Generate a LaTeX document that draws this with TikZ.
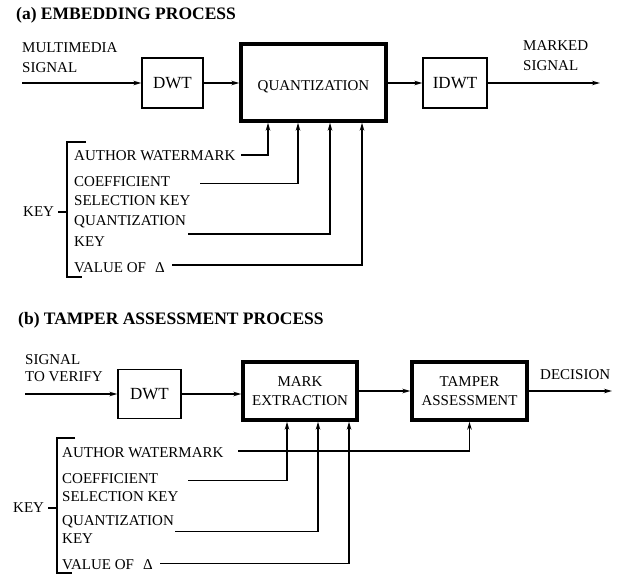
\documentclass[tikz,border=0pt]{standalone}
\usepackage{fontspec}
\setmainfont{Liberation Serif}
\usetikzlibrary{arrows.meta,calc}
\begin{document}
\begin{tikzpicture}[x=1pt,y=-1pt,
  txt/.style={inner sep=0pt, anchor=west, align=left, font=\fontsize{15}{18}\selectfont},
  ttl/.style={inner sep=0pt, anchor=west, font=\bfseries\fontsize{17.5}{20}\selectfont},
  thinbox/.style={draw, line width=1.3pt, inner sep=0pt, font=\fontsize{17}{20}\selectfont},
  thickbox/.style={draw, line width=3.4pt, inner sep=0pt, align=center, font=\fontsize{15}{18.7}\selectfont},
  conn/.style={line width=1.3pt},
  arr/.style={conn, -{Stealth[length=8pt,width=4.5pt]}}]
\useasboundingbox (0,0) rectangle (617,575);

% ---------------- (a) embedding process ----------------
\node[ttl] (ta) at (16,15.5) {(a) EMBEDDING PROCESS};
\node[txt] (in1) at (22,58) {MULTIMEDIA\\[2pt]SIGNAL};
\coordinate (in1s) at (22,83);
\node[thinbox, minimum width=61pt, minimum height=50pt] (dwt1) at (172.5,83) {DWT};
\node[thickbox, minimum width=145pt, minimum height=77pt, text height=17pt, text depth=0pt] (q) at (313.5,82.5) {QUANTIZATION};
\node[thinbox, minimum width=64pt, minimum height=50pt] (idwt) at (455,83) {IDWT};
\node[txt] (out1) at (523,55.7) {MARKED\\[2pt]SIGNAL};
\coordinate (out1e) at (600,83);

\draw[arr] (in1s) -- (dwt1.west);
\draw[arr] (dwt1.east) -- (dwt1.east -| q.west);
\draw[arr] (q.east |- idwt.west) -- (idwt.west);
\draw[arr] (idwt.east) -- (out1e);

\node[txt] (key1) at (23,212) {KEY};
\coordinate (br1) at (67,212);
\draw[conn] ([xshift=4pt]key1.east) -- (br1);
\draw[conn] (86,142) -- (67,142) -- (67,277) -- (82,277);

\node[txt] (aw1) at (74,155.8) {AUTHOR WATERMARK};
\node[txt] (cs1) at (74,190.8) {COEFFICIENT\\[1pt]SELECTION KEY};
\node[txt] (qk1) at (74,231.3) {QUANTIZATION\\[3pt]KEY};
\node[txt] (vd1) at (74,267.7) {VALUE OF\hspace{9pt}Δ};
\coordinate (aw1s) at (241,155);
\coordinate (cs1s) at (200,183.3);
\coordinate (qk1s) at (188,234);
\coordinate (vd1s) at (172,265);
\draw[arr] (aw1s) -| ([xshift=-45.5pt]q.south);
\draw[arr] (cs1s) -| ([xshift=-15.5pt]q.south);
\draw[arr] (qk1s) -| ([xshift=16.5pt]q.south);
\draw[arr] (vd1s) -| ([xshift=48.5pt]q.south);

% ---------------- (b) tamper assessment process ----------------
\node[ttl] (tb) at (18,320.5) {(b) TAMPER ASSESSMENT PROCESS};
\node[txt] (in2) at (25,368) {SIGNAL\\[-1pt]TO VERIFY};
\coordinate (in2s) at (25,394);
\node[thinbox, minimum width=63pt, minimum height=49pt] (dwt2) at (149.5,394) {DWT};
\node[thickbox, minimum width=114pt, minimum height=58pt] (me) at (300,391) {MARK\\EXTRACTION};
\node[thickbox, minimum width=115pt, minimum height=58pt] (tam) at (469.5,391) {TAMPER\\ASSESSMENT};
\node[txt] (dec) at (540,375) {DECISION};
\coordinate (dece) at (612,391);

\draw[arr] (in2s) -- (dwt2.west);
\draw[arr] (dwt2.east) -- (dwt2.east -| me.west);
\draw[arr] (me.east) -- (tam.west);
\draw[arr] (tam.east) -- (dece);

\node[txt] (key2) at (13,508) {KEY};
\coordinate (br2) at (57,508);
\draw[conn] ([xshift=4pt]key2.east) -- (br2);
\draw[conn] (75,438) -- (57,438) -- (57,573) -- (72,573);

\node[txt] (aw2) at (62,452.7) {AUTHOR WATERMARK};
\node[txt] (cs2) at (62,487.3) {COEFFICIENT\\SELECTION KEY};
\node[txt] (qk2) at (62,530) {QUANTIZATION\\KEY};
\node[txt] (vd2) at (62,564.3) {VALUE OF\hspace{9pt}Δ};
\coordinate (aw2s) at (238,451);
\coordinate (cs2s) at (188,480.7);
\coordinate (qk2s) at (175,531.7);
\coordinate (vd2s) at (160,563.3);
\draw[arr] (aw2s) -| (tam.south);
\draw[arr] (cs2s) -| ([xshift=-13pt]me.south);
\draw[arr] (qk2s) -| ([xshift=18pt]me.south);
\draw[arr] (vd2s) -| ([xshift=49pt]me.south);
\end{tikzpicture}
\end{document}
